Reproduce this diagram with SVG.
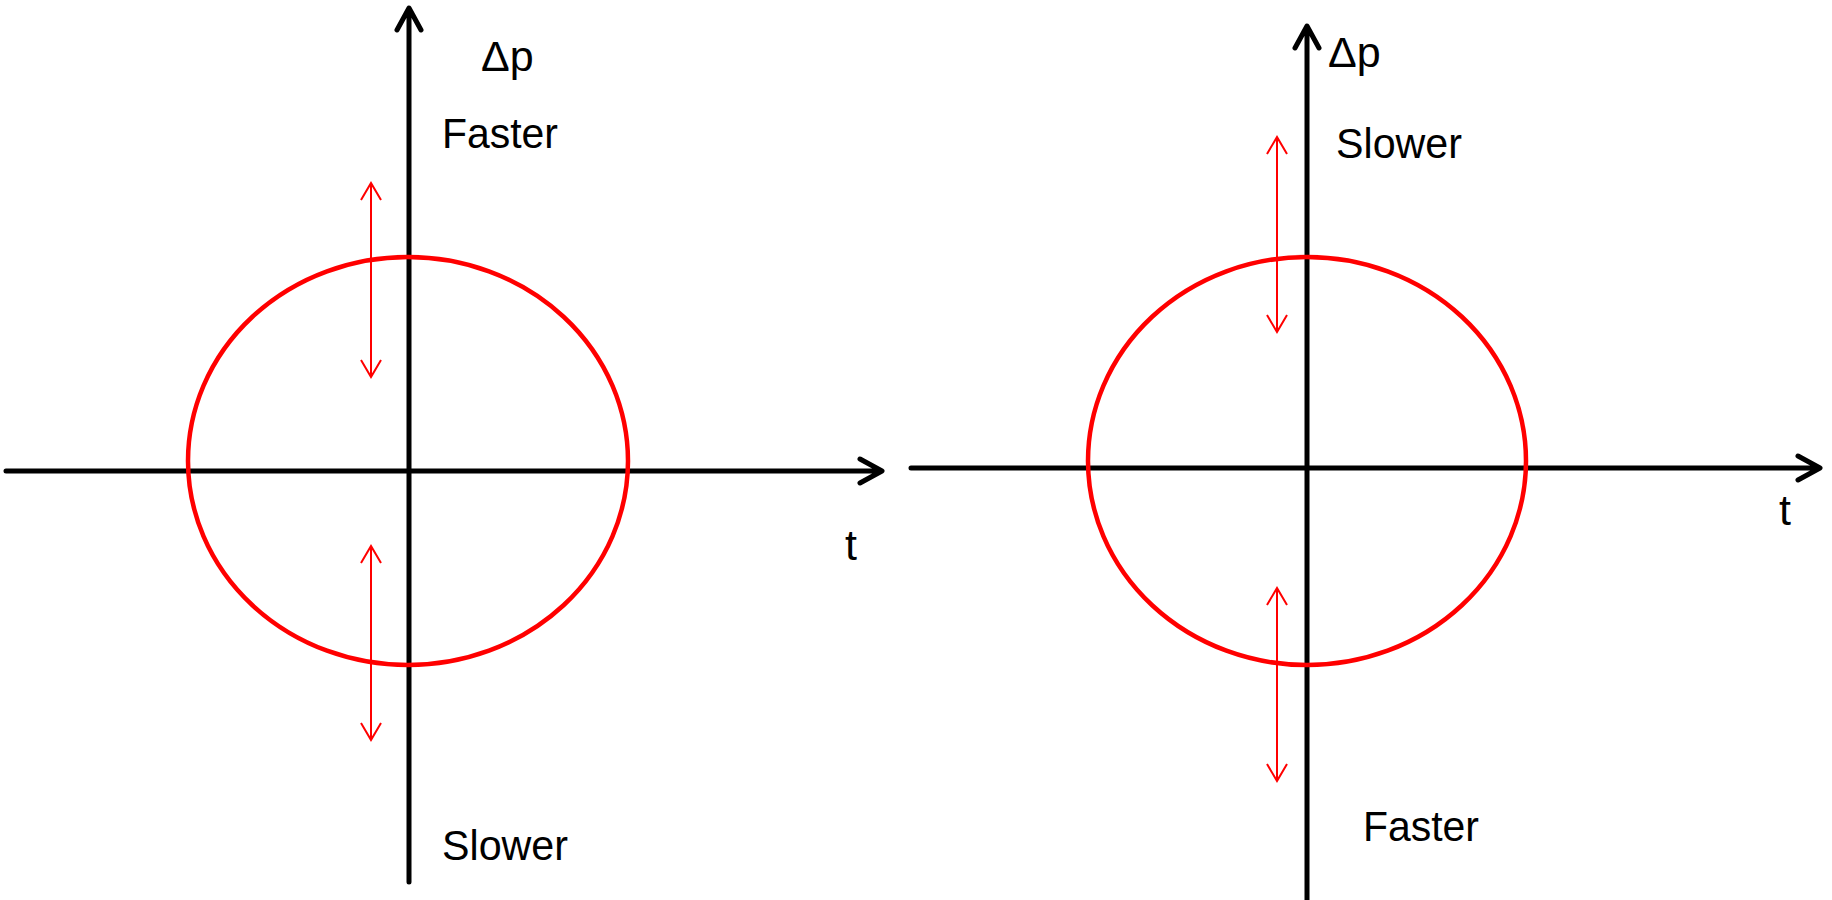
<svg xmlns="http://www.w3.org/2000/svg" width="1832" height="900" viewBox="0 0 1832 900">
<style>
.ax{stroke:#000;stroke-width:5;fill:none;stroke-linecap:round;stroke-linejoin:round}
.el{stroke:#ff0000;stroke-width:4.5;fill:none}
.ra{stroke:#ff0000;stroke-width:2;fill:none}
.lb{font-family:"Liberation Sans",Arial,sans-serif;font-size:43px;fill:#000}
</style>
<rect width="1832" height="900" fill="#fff"/>
<g id="connectors">
<g id="left-axes">
<path class="ax" d="M6 471 H880 M860 459 L882 471 L860 483"/>
<path class="ax" d="M409 882 V9 M397 30 L409 8 L421 30"/>
</g>
<g id="right-axes">
<path class="ax" d="M911 468 H1818 M1798 456 L1820 468 L1798 480"/>
<path class="ax" d="M1307 900 V27 M1295 48 L1307 26 L1319 48"/>
</g>
<g id="left-red-arrows">
<path class="ra" d="M371 184 V376 M361 200 L371 183 L381 200 M361 360 L371 377 L381 360"/>
<path class="ra" d="M371 547 V739 M361 563 L371 546 L381 563 M361 723 L371 740 L381 723"/>
</g>
<g id="right-red-arrows">
<path class="ra" d="M1277 138 V331 M1267 154 L1277 137 L1287 154 M1267 315 L1277 332 L1287 315"/>
<path class="ra" d="M1277 589 V780 M1267 605 L1277 588 L1287 605 M1267 764 L1277 781 L1287 764"/>
</g>
</g>
<g id="left-ellipse"><ellipse class="el" cx="408" cy="461" rx="220" ry="204"/></g>
<g id="right-ellipse"><ellipse class="el" cx="1307" cy="461" rx="219" ry="204"/></g>
<g id="left-labels">
<text class="lb" x="481" y="71">Δp</text>
<text class="lb" x="442" y="148" textLength="116" lengthAdjust="spacingAndGlyphs">Faster</text>
<text class="lb" x="845" y="560">t</text>
<text class="lb" x="442" y="860" textLength="126" lengthAdjust="spacingAndGlyphs">Slower</text>
</g>
<g id="right-labels">
<text class="lb" x="1328" y="67">Δp</text>
<text class="lb" x="1336" y="158" textLength="126" lengthAdjust="spacingAndGlyphs">Slower</text>
<text class="lb" x="1779" y="525">t</text>
<text class="lb" x="1363" y="841" textLength="116" lengthAdjust="spacingAndGlyphs">Faster</text>
</g>
</svg>
